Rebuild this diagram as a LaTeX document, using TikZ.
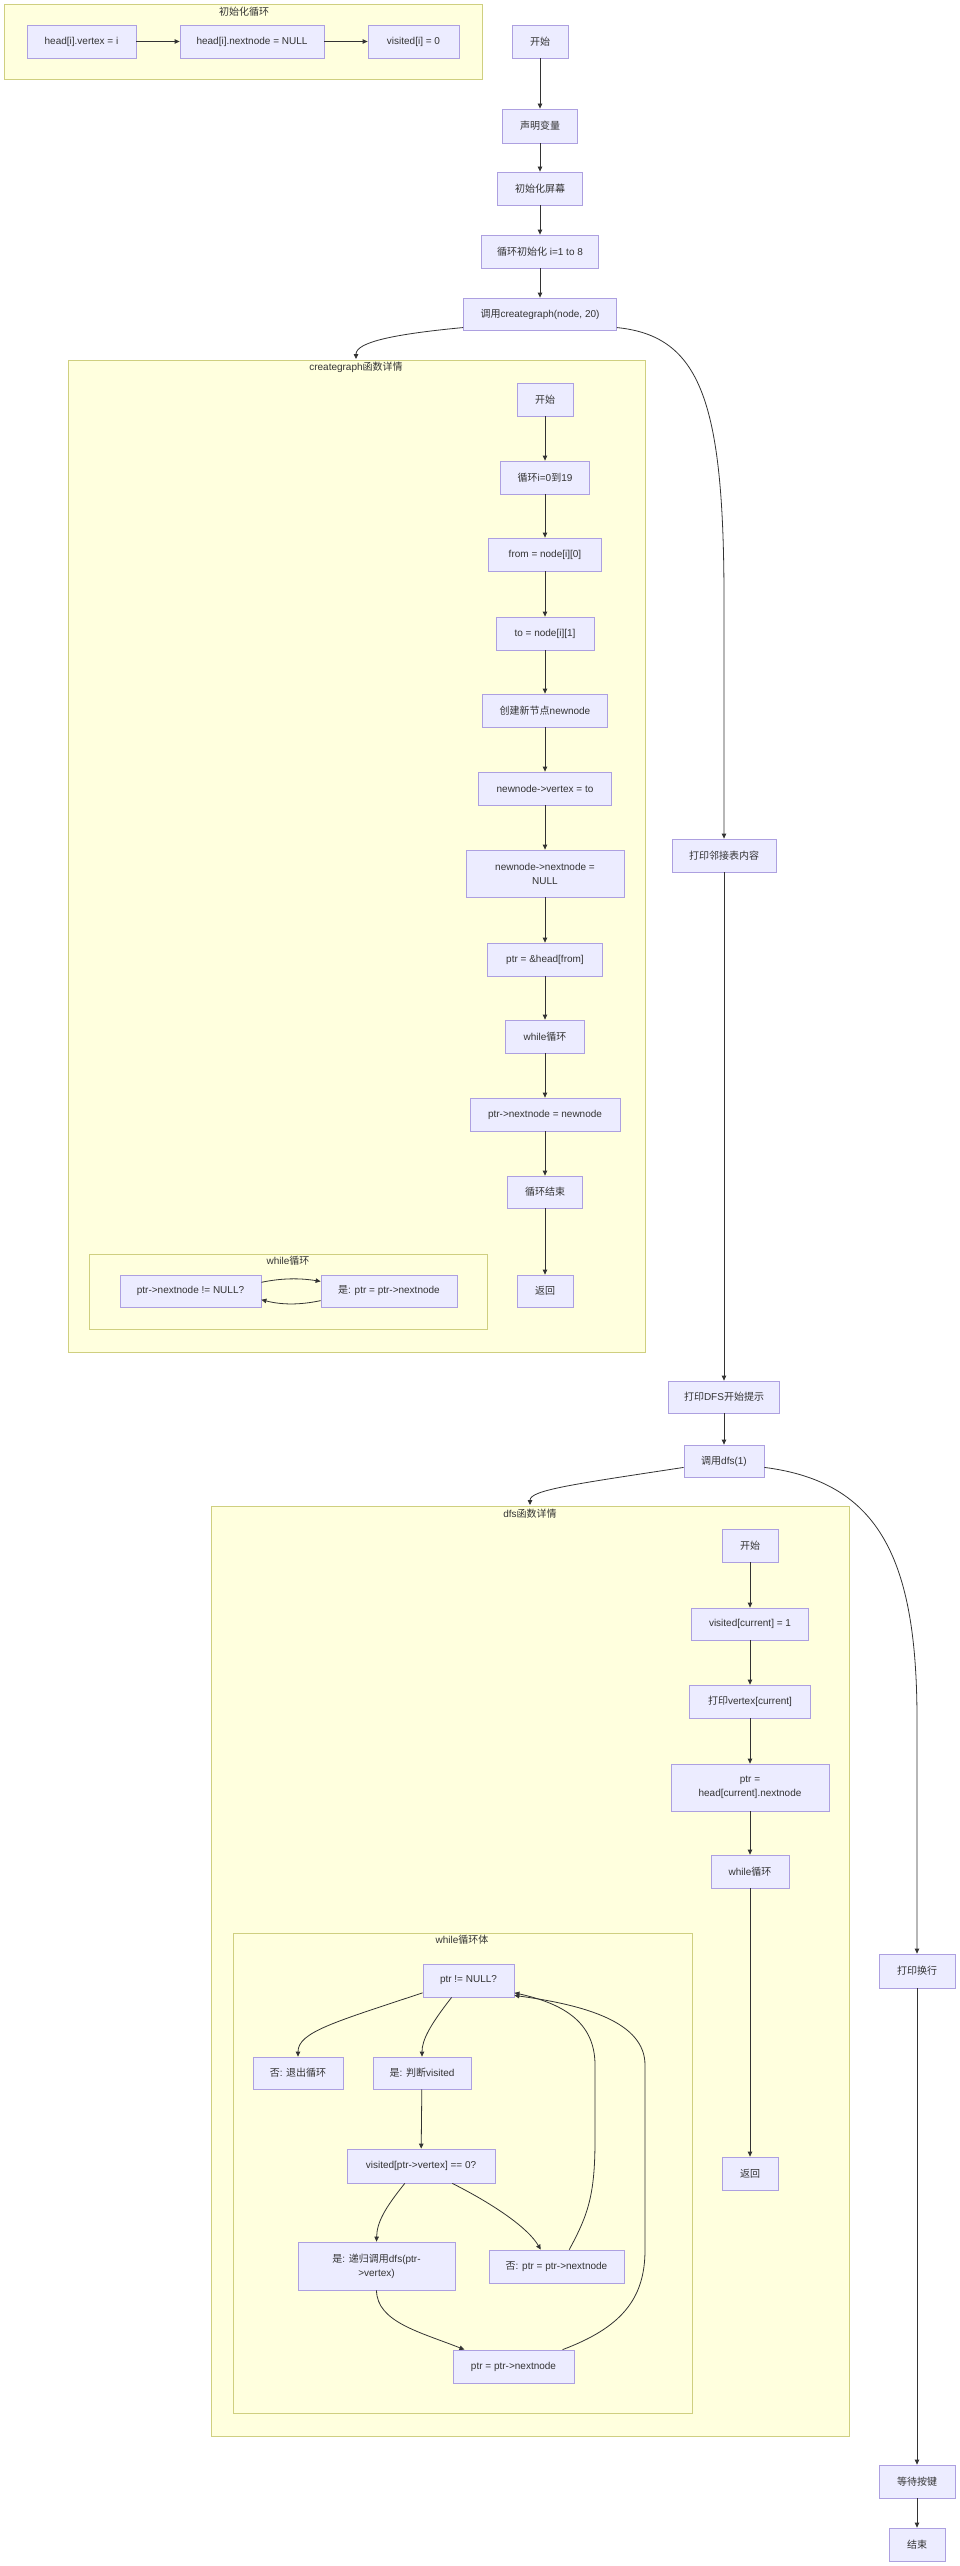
\documentclass[tikz,border=0pt]{standalone}
\usepackage{fontspec}
\setmainfont{Liberation Sans}
\newfontfamily\cjk{Noto Sans CJK SC}
\newcommand\zh[1]{{\cjk #1}}
\usetikzlibrary{arrows.meta}
\definecolor{nodefill}{HTML}{ECECFF}
\definecolor{nodedraw}{HTML}{ADA0E0}
\definecolor{clfill}{HTML}{FFFFDE}
\definecolor{cldraw}{HTML}{CFCF80}
\definecolor{txt}{HTML}{333333}
\definecolor{edgecol}{HTML}{333333}
\tikzset{
  box/.style={draw=nodedraw, fill=nodefill, line width=0.8pt, inner sep=0pt,
    font=\fontsize{10}{14}\selectfont, text=txt, align=center},
  cluster/.style={draw=cldraw, fill=clfill, line width=0.8pt},
  ctitle/.style={font=\fontsize{10}{12}\selectfont, text=txt, inner sep=0pt},
  flow/.style={draw=edgecol, line width=0.8pt, -{Triangle[length=5pt,width=4.5pt]}},
}
\begin{document}
\begin{tikzpicture}[x=1pt,y=-1pt]
\fill[white] (0,0) rectangle (960,2566);
\useasboundingbox (0,0) rectangle (960,2566);

% ---------- clusters ----------
\draw[cluster] (4,4) rectangle (482,79);
\node[ctitle] (t1) at (244,12) {\zh{初始化循环}};
\draw[cluster] (68,360) rectangle (645,1352);
\node[ctitle] (t2) at (356,367) {creategraph\zh{函数详情}};
\draw[cluster] (89,1254) rectangle (487,1329);
\node[ctitle] (t3) at (288,1261) {while\zh{循环}};
\draw[cluster] (211,1506) rectangle (849,2436);
\node[ctitle] (t4) at (530,1514) {dfs\zh{函数详情}};
\draw[cluster] (233,1933) rectangle (692,2413);
\node[ctitle] (t5) at (462,1940) {while\zh{循环体}};

% ---------- init loop cluster ----------
\node[box, minimum width=109pt, minimum height=33pt] (hv) at (81.5,41.5) {head[i].vertex = i};
\node[box, minimum width=144pt, minimum height=33pt] (hn) at (252,41.5) {head[i].nextnode = NULL};
\node[box, minimum width=91pt, minimum height=33pt] (vi) at (413.5,41.5) {visited[i] = 0};

% ---------- main column ----------
\node[box, minimum width=56pt, minimum height=33pt] (start) at (540,41.5) {\zh{开始}};
\node[box, minimum width=75pt, minimum height=34pt] (decl) at (540,126) {\zh{声明变量}};
\node[box, minimum width=85pt, minimum height=33pt] (iscr) at (540,188.5) {\zh{初始化屏幕}};
\node[box, minimum width=117pt, minimum height=33pt] (linit) at (540,251.5) {\zh{循环初始化} i=1 to 8};
\node[box, minimum width=153pt, minimum height=32pt] (callcg) at (540,314) {\zh{调用}creategraph(node, 20)};

% ---------- creategraph column ----------
\node[box, minimum width=56pt, minimum height=33pt] (cgs) at (545,399.5) {\zh{开始}};
\node[box, minimum width=89pt, minimum height=33pt] (cgloop) at (545,477.5) {\zh{循环}i=0\zh{到}19};
\node[box, minimum width=113pt, minimum height=33pt] (cgfrom) at (545,554.5) {from = node[i][0]};
\node[box, minimum width=98pt, minimum height=33pt] (cgto) at (545,633.5) {to = node[i][1]};
\node[box, minimum width=125pt, minimum height=33pt] (cgnew) at (545,710.5) {\zh{创建新节点}newnode};
\node[box, minimum width=133pt, minimum height=33pt] (cgvert) at (545,788.5) {newnode->vertex = to};
\node[box, minimum width=158pt, minimum height=47pt] (cgnext) at (545,873.5) {newnode->nextnode =\\NULL};
\node[box, minimum width=115pt, minimum height=33pt] (cgptr) at (545,959.5) {ptr = \&head[from]};
\node[box, minimum width=79pt, minimum height=33pt] (cgwhile) at (545,1036.5) {while\zh{循环}};
\node[box, minimum width=150pt, minimum height=33pt] (cgset) at (545,1114.5) {ptr->nextnode = newnode};
\node[box, minimum width=75pt, minimum height=32pt] (cgend) at (545,1192) {\zh{循环结束}};
\node[box, minimum width=56pt, minimum height=32pt] (cgret) at (545,1291) {\zh{返回}};

\node[box, minimum width=141pt, minimum height=32pt] (wa) at (190.5,1291) {ptr->nextnode != NULL?};
\node[box, minimum width=136pt, minimum height=32pt] (wb) at (389,1291) {\zh{是}: ptr = ptr->nextnode};

% ---------- right column ----------
\node[box, minimum width=104pt, minimum height=33pt] (plj) at (724,855.5) {\zh{打印邻接表内容}};
\node[box, minimum width=111pt, minimum height=32pt] (pdfs) at (724,1397) {\zh{打印}DFS\zh{开始提示}};
\node[box, minimum width=80pt, minimum height=32pt] (cdfs) at (724,1461) {\zh{调用}dfs(1)};

% ---------- dfs column ----------
\node[box, minimum width=56pt, minimum height=33pt] (ds) at (750,1545.5) {\zh{开始}};
\node[box, minimum width=117pt, minimum height=32pt] (dvis) at (750,1624) {visited[current] = 1};
\node[box, minimum width=121pt, minimum height=33pt] (dpr) at (750,1701.5) {\zh{打印}vertex[current]};
\node[box, minimum width=158pt, minimum height=47pt] (dptr) at (750,1787.5) {ptr =\\head[current].nextnode};
\node[box, minimum width=78pt, minimum height=33pt] (dwhile) at (750,1871.5) {while\zh{循环}};
\node[box, minimum width=56pt, minimum height=33pt] (dret) at (750,2173.5) {\zh{返回}};

\node[box, minimum width=91pt, minimum height=33pt] (pn) at (468.5,1980.5) {ptr != NULL?};
\node[box, minimum width=90pt, minimum height=32pt] (no1) at (298,2073) {\zh{否}: \zh{退出循环}};
\node[box, minimum width=98pt, minimum height=32pt] (yes1) at (422,2073) {\zh{是}: \zh{判断}visited};
\node[box, minimum width=148pt, minimum height=34pt] (vq) at (421,2166) {visited[ptr->vertex] == 0?};
\node[box, minimum width=157pt, minimum height=48pt] (rec) at (376.5,2266) {\zh{是}: \zh{递归调用}dfs(ptr-\\>vertex)};
\node[box, minimum width=135pt, minimum height=33pt] (no2) at (556.5,2266.5) {\zh{否}: ptr = ptr->nextnode};
\node[box, minimum width=121pt, minimum height=33pt] (adv) at (513.5,2366.5) {ptr = ptr->nextnode};

% ---------- end column ----------
\node[box, minimum width=76pt, minimum height=34pt] (pnl) at (917,1971) {\zh{打印换行}};
\node[box, minimum width=76pt, minimum height=33pt] (wait) at (917,2481.5) {\zh{等待按键}};
\node[box, minimum width=56pt, minimum height=33pt] (fin) at (917,2544.5) {\zh{结束}};

\coordinate (cgtop) at (356,359);
\coordinate (dfstop) at (530,1505);

% ---------- edges ----------
\draw[flow] (hv) -- (hn);
\draw[flow] (hn) -- (vi);

\draw[flow] (start) -- (decl);
\draw[flow] (decl) -- (iscr);
\draw[flow] (iscr) -- (linit);
\draw[flow] (linit) -- (callcg);
\draw[flow] (callcg.190) .. controls (395,334) and (356,342) .. (cgtop);
\draw[flow] (callcg.-10) .. controls (700,336) and (724,400) .. (724,600) -- (plj.north);

\draw[flow] (cgs) -- (cgloop);
\draw[flow] (cgloop) -- (cgfrom);
\draw[flow] (cgfrom) -- (cgto);
\draw[flow] (cgto) -- (cgnew);
\draw[flow] (cgnew) -- (cgvert);
\draw[flow] (cgvert) -- (cgnext);
\draw[flow] (cgnext) -- (cgptr);
\draw[flow] (cgptr) -- (cgwhile);
\draw[flow] (cgwhile) -- (cgset);
\draw[flow] (cgset) -- (cgend);
\draw[flow] (cgend) -- (cgret);

\draw[flow] (wa.7) .. controls (282,1278) and (300,1278) .. (wb.172);
\draw[flow] (wb.188) .. controls (300,1305) and (282,1305) .. (wa.-7);

\draw[flow] (plj) -- (pdfs);
\draw[flow] (pdfs) -- (cdfs);
\draw[flow] (cdfs.189) .. controls (575,1484) and (530,1490) .. (dfstop);
\draw[flow] (cdfs.-9) .. controls (880,1482) and (917,1560) .. (917,1720) -- (pnl.north);

\draw[flow] (ds) -- (dvis);
\draw[flow] (dvis) -- (dpr);
\draw[flow] (dpr) -- (dptr);
\draw[flow] (dptr) -- (dwhile);
\draw[flow] (dwhile) -- (dret);

\draw[flow] (pn.195) .. controls (335,2022) and (298,2032) .. (no1.north);
\draw[flow] (pn.225) .. controls (430,2025) and (422,2040) .. (yes1.north);
\draw[flow] (yes1) -- (vq);
\draw[flow] (vq.227) .. controls (385,2208) and (377,2222) .. (rec.north);
\draw[flow] (vq.-29) .. controls (495,2205) and (528,2228) .. (no2.133);
\draw[flow] (no2.53) .. controls (588,2215) and (595,2195) .. (595,2140) -- (595,2065) .. controls (595,2020) and (560,2003) .. (pn.-15);
\draw[flow] (rec.south) .. controls (377,2322) and (420,2332) .. (adv.161);
\draw[flow] (adv.19) .. controls (620,2328) and (645,2300) .. (645,2250) -- (645,2065) .. controls (645,2022) and (585,2005) .. (pn.-18);

\draw[flow] (pnl) -- (wait);
\draw[flow] (wait) -- (fin);
\end{tikzpicture}
\end{document}
